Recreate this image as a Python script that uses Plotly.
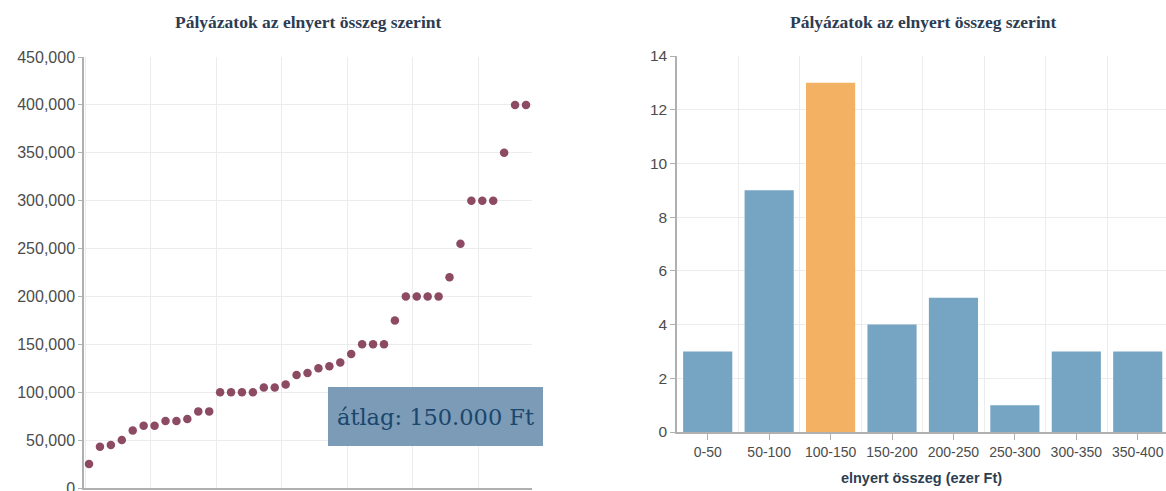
import plotly.graph_objects as go

# ---- data ----
award_rank = list(range(1, 42))
award_amount = [25000, 43000, 45000,
                50000, 60000, 65000, 65000, 70000, 70000, 72000, 80000, 80000,
                100000, 100000, 100000, 100000, 105000, 105000, 108000, 118000,
                120000, 125000, 127000, 131000, 140000,
                150000, 150000, 150000, 175000,
                200000, 200000, 200000, 200000, 220000,
                255000,
                300000, 300000, 300000,
                350000, 400000, 400000]

bins = ["0-50", "50-100", "100-150", "150-200", "200-250", "250-300", "300-350", "350-400"]
bin_counts = [3, 9, 13, 4, 5, 1, 3, 3]
highlight_bin = "100-150"
mean_label = "átlag: 150.000 Ft"
title_text = "Pályázatok az elnyert összeg szerint"
x_title = "elnyert összeg (ezer Ft)"

W, H = 1166, 491
BLUE = "#76a4c3"
ORANGE = "#f3b163"
DOT = "#8c4a63"
GRID = "#ececec"
AXIS = "#b0b0b0"
TICKFONT = dict(family="Liberation Sans, Arial, sans-serif", color="#4c4c4c")
TITLEFONT = dict(family="Liberation Serif, serif", color="#2c3c52", size=17.5)

fig = go.Figure()

fig.add_trace(go.Scatter(
    x=award_rank, y=award_amount, mode="markers",
    marker=dict(color=DOT, size=8.5, line=dict(width=0)),
    xaxis="x", yaxis="y", showlegend=False,
))

bin_idx = list(range(len(bins)))
fig.add_trace(go.Bar(
    x=bin_idx, y=bin_counts,
    marker=dict(color=[ORANGE if b == highlight_bin else BLUE for b in bins], line=dict(width=0)),
    width=0.8, xaxis="x2", yaxis="y2", showlegend=False,
))

def px_x(p):
    return p / W

def px_y(p):
    return 1 - p / H

fig.update_layout(
    width=W, height=H,
    margin=dict(l=0, r=0, t=0, b=0, pad=0, autoexpand=False),
    paper_bgcolor="white", plot_bgcolor="white",
    xaxis=dict(domain=[px_x(84), px_x(532)], range=[0.54, 41.55], automargin=False,
               showticklabels=False, ticks="", tick0=0.65, dtick=6,
               showgrid=True, gridcolor=GRID, zeroline=False,
               showline=True, linecolor=AXIS, linewidth=1.5),
    yaxis=dict(domain=[px_y(488), px_y(57)], range=[0, 450000], automargin=False,
               dtick=50000, tickformat=",", tickfont=dict(size=16, **TICKFONT),
               ticklabeloverflow="allow",
               ticks="outside", ticklen=4, tickcolor=AXIS,
               showgrid=True, gridcolor=GRID, zeroline=False,
               showline=True, linecolor=AXIS, linewidth=1.5),
    xaxis2=dict(domain=[px_x(677), 1.0], range=[-0.5, 7.46], anchor="y2", automargin=False,
                tickvals=bin_idx, ticktext=bins, tickfont=dict(size=14, **TICKFONT),
                ticklabeloverflow="allow",
                ticks="outside", ticklen=6, tickcolor=AXIS,
                showgrid=False, zeroline=False,
                minor=dict(tickvals=[i - 0.5 for i in bin_idx] + [len(bins) - 0.5],
                           showgrid=True, gridcolor=GRID, ticks=""),
                showline=True, linecolor=AXIS, linewidth=1.5,
                title=dict(text="<b>" + x_title + "</b>", standoff=14,
                           font=dict(family="Liberation Sans, Arial, sans-serif", size=14.5, color="#2d3e50"))),
    yaxis2=dict(domain=[px_y(432), px_y(56)], range=[0, 14], anchor="x2", automargin=False,
                dtick=2, tickfont=dict(size=15.5, **TICKFONT),
                ticks="outside", ticklen=5, tickcolor=AXIS,
                showgrid=True, gridcolor=GRID, zeroline=False,
                showline=True, linecolor=AXIS, linewidth=1.5),
    bargap=0.2,
)

fig.add_annotation(text="<b>" + title_text + "</b>", xref="paper", yref="paper",
                   x=px_x(308), y=px_y(22), showarrow=False, font=TITLEFONT,
                   xanchor="center", yanchor="middle")
fig.add_annotation(text="<b>" + title_text + "</b>", xref="paper", yref="paper",
                   x=px_x(923), y=px_y(22), showarrow=False, font=TITLEFONT,
                   xanchor="center", yanchor="middle")

fig.add_annotation(text=mean_label, xref="paper", yref="paper",
                   x=px_x(435.5), y=px_y(416.5), showarrow=False,
                   xanchor="center", yanchor="middle",
                   font=dict(family="DejaVu Serif, serif", size=22.5, color="#1b466e"),
                   bgcolor="#7b9bb6", width=211, height=55, borderpad=2, borderwidth=0)

fig.write_html("out.html", config={"displayModeBar": False},
               post_script="document.body.style.margin='0';document.body.style.overflow='hidden';")
